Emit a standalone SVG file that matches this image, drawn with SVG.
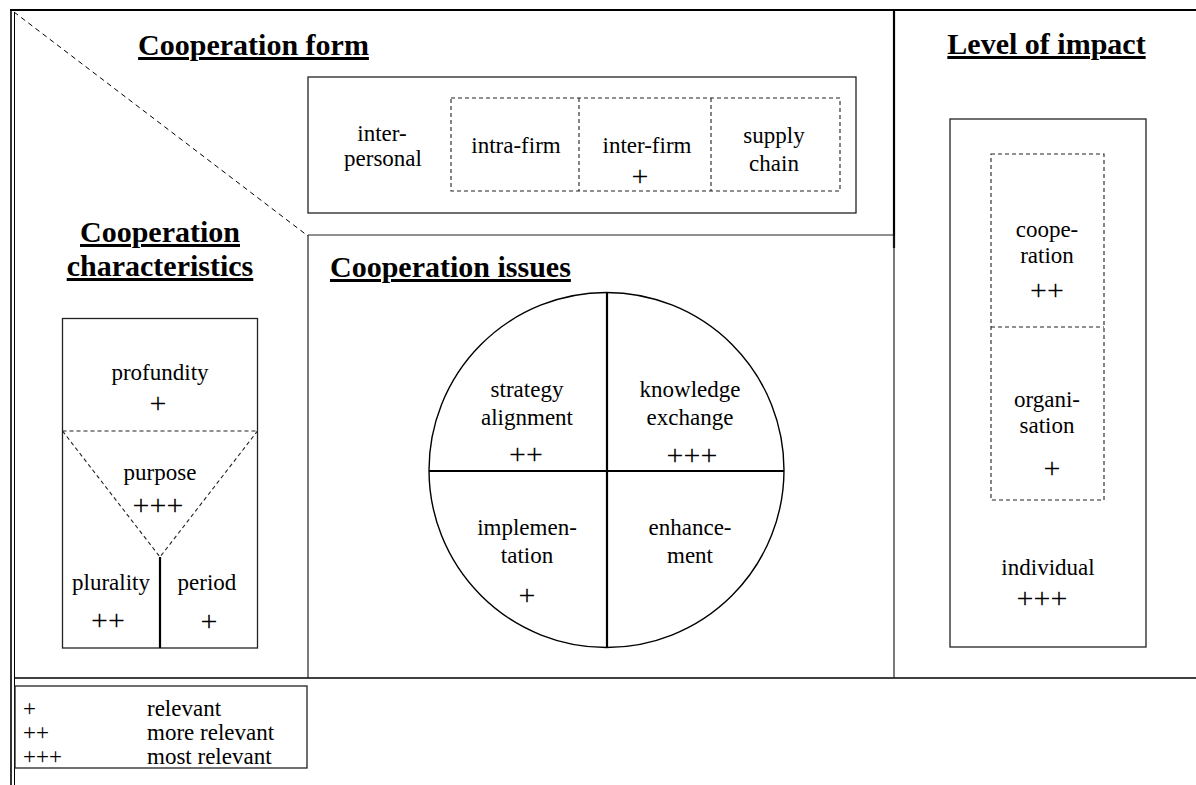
<svg xmlns="http://www.w3.org/2000/svg" width="1196" height="785" viewBox="0 0 1196 785">
<style>
text{font-family:"Liberation Serif","Times New Roman",serif;fill:#000}
.t{font-size:23px;text-anchor:middle}
.p{font-size:30px;text-anchor:middle}
.h{font-size:30px;font-weight:bold;text-decoration:underline}
.hc{text-anchor:middle}
.lg{font-size:23px}
.box{fill:none;stroke:#222;stroke-width:1.3}
.dash{fill:none;stroke:#222;stroke-width:1.1;stroke-dasharray:4 3}
.thin{stroke:#222;stroke-width:1.2;fill:none}
.thick{stroke:#000;stroke-width:2.2;fill:none}
</style>
<rect width="1196" height="785" fill="#fff"/>
<g id="frame">
<line class="thick" x1="10" y1="10" x2="1196" y2="10"/>
<line x1="11" y1="9" x2="11" y2="785" stroke="#000" stroke-width="1.6"/>
<line x1="14.5" y1="12" x2="14.5" y2="785" stroke="#000" stroke-width="1"/>
<line x1="14" y1="678" x2="1196" y2="678" stroke="#000" stroke-width="1.6"/>
<line class="thick" x1="894" y1="10" x2="894" y2="248"/>
<line class="thin" x1="894" y1="236" x2="894" y2="678"/>
<line class="thin" x1="308" y1="235" x2="894" y2="235"/>
<line class="thin" x1="308" y1="235" x2="308" y2="678"/>
</g>
<g id="dividers">
<line x1="14" y1="12" x2="308" y2="236" stroke="#000" stroke-width="1" stroke-dasharray="5 4"/>
</g>
<g id="cooperation-form">
<text class="h hc" x="253.5" y="55">Cooperation form</text>
<rect class="box" x="308" y="77" width="548" height="136"/>
<text class="t" x="382" y="141">inter-</text>
<text class="t" x="383" y="166">personal</text>
<rect class="dash" x="451" y="98" width="389" height="93"/>
<line class="dash" x1="579" y1="98" x2="579" y2="191"/>
<line class="dash" x1="711" y1="98" x2="711" y2="191"/>
<text class="t" x="516" y="153">intra-firm</text>
<text class="t" x="647" y="153">inter-firm</text>
<text class="p" x="640" y="186">+</text>
<text class="t" x="774" y="143">supply</text>
<text class="t" x="774" y="171">chain</text>
</g>
<g id="cooperation-characteristics">
<text class="h hc" x="160" y="242">Cooperation</text>
<text class="h hc" x="160" y="276">characteristics</text>
<rect class="box" x="62.5" y="318.5" width="195" height="329.5"/>
<line class="dash" x1="62.5" y1="431" x2="257.5" y2="431"/>
<polyline class="dash" points="62.5,431 160,557 257.5,431"/>
<line class="thick" x1="160" y1="557" x2="160" y2="648"/>
<text class="t" x="160" y="380">profundity</text>
<text class="p" x="158" y="413">+</text>
<text class="t" x="160" y="480">purpose</text>
<text class="p" x="158" y="515">+++</text>
<text class="t" x="111" y="590">plurality</text>
<text class="t" x="207" y="590">period</text>
<text class="p" x="108" y="630">++</text>
<text class="p" x="209" y="631">+</text>
</g>
<g id="cooperation-issues">
<text class="h" x="330" y="277">Cooperation issues</text>
<circle cx="606.5" cy="470" r="177.5" fill="none" stroke="#000" stroke-width="1.4"/>
<line class="thick" x1="429" y1="471" x2="784" y2="471"/>
<line class="thick" x1="607" y1="292.5" x2="607" y2="647.5"/>
<text class="t" x="527" y="397">strategy</text>
<text class="t" x="527" y="425">alignment</text>
<text class="p" x="526" y="464">++</text>
<text class="t" x="690" y="397">knowledge</text>
<text class="t" x="690" y="425">exchange</text>
<text class="p" x="692" y="465">+++</text>
<text class="t" x="527" y="535">implemen-</text>
<text class="t" x="527" y="563">tation</text>
<text class="p" x="527" y="605">+</text>
<text class="t" x="690" y="535">enhance-</text>
<text class="t" x="690" y="563">ment</text>
</g>
<g id="level-of-impact">
<text class="h hc" x="1046.5" y="54">Level of impact</text>
<rect class="box" x="950" y="119" width="196" height="528"/>
<rect class="dash" x="991" y="154" width="113" height="346"/>
<line class="dash" x1="991" y1="327" x2="1104" y2="327"/>
<text class="t" x="1047" y="237">coope-</text>
<text class="t" x="1047" y="263">ration</text>
<text class="p" x="1047" y="300">++</text>
<text class="t" x="1047" y="407">organi-</text>
<text class="t" x="1047" y="433">sation</text>
<text class="p" x="1052" y="478">+</text>
<text class="t" x="1048" y="575">individual</text>
<text class="p" x="1042" y="608">+++</text>
</g>
<g id="legend">
<rect class="box" x="15" y="686" width="292" height="82"/>
<text class="lg" x="23" y="716">+</text>
<text class="lg" x="147" y="716">relevant</text>
<text class="lg" x="23" y="740">++</text>
<text class="lg" x="147" y="740">more relevant</text>
<text class="lg" x="23" y="764">+++</text>
<text class="lg" x="147" y="764">most relevant</text>
</g>
</svg>
